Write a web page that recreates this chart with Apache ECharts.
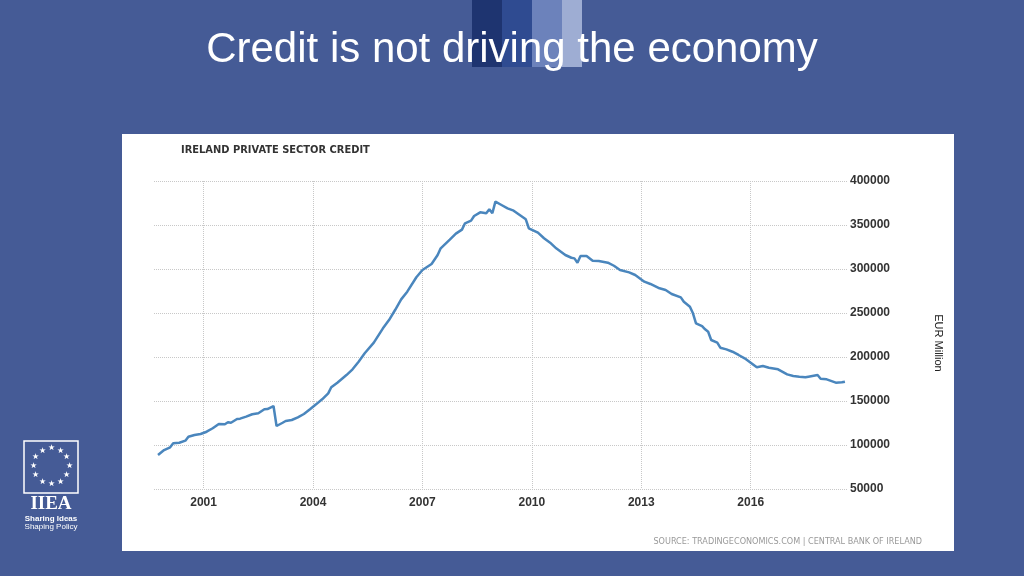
<!DOCTYPE html>
<html><head><meta charset="utf-8">
<script src="https://cdn.jsdelivr.net/npm/echarts@6/dist/echarts.min.js"></script>
<style>html,body{margin:0;padding:0;background:#455b96}#c{width:1024px;height:576px}</style>
</head><body><div id="c"></div>
<script>
// ---- data ----
const months = ['1999-10','1999-12','2000-02','2000-03','2000-05','2000-07','2000-08','2000-10','2000-12',
'2001-02','2001-04','2001-06','2001-08','2001-09','2001-10','2001-12','2002-01','2002-03','2002-05','2002-07',
'2002-09','2002-10','2002-12','2003-01','2003-03','2003-04','2003-06','2003-08','2003-10','2003-12','2004-02',
'2004-04','2004-06','2004-07','2004-09','2004-12','2005-02','2005-04','2005-06','2005-09','2005-12','2006-02',
'2006-04','2006-06','2006-08','2006-11','2007-01','2007-04','2007-06','2007-07','2007-10','2007-12','2008-02',
'2008-03','2008-05','2008-06','2008-08','2008-10','2008-11','2008-12','2009-01','2009-03','2009-05','2009-07',
'2009-09','2009-11','2009-12','2010-03','2010-05','2010-07','2010-09','2010-12','2011-02','2011-03','2011-04',
'2011-05','2011-07','2011-09','2011-11','2012-02','2012-04','2012-06','2012-09','2012-11','2013-02','2013-04',
'2013-07','2013-09','2013-11','2014-02','2014-03','2014-05','2014-06','2014-07','2014-09','2014-10','2014-11',
'2014-12','2015-02','2015-03','2015-05','2015-07','2015-09','2015-11','2016-01','2016-03','2016-05','2016-07',
'2016-10','2017-01','2017-03','2017-05','2017-07','2017-08','2017-11','2017-12','2018-02','2018-05','2018-07','2018-08'];
const credit = [88600,94300,97400,102000,102600,104900,109400,111400,112500,
115100,119000,123900,123500,125800,125300,129500,129900,132200,134900,136000,
140600,140900,144300,121600,125300,127300,128400,131400,135200,140600,146200,
151900,158700,165600,170800,179500,186000,194700,204200,216300,232600,242000,
253400,265500,274200,290600,298900,305700,315900,323500,333400,340200,344700,
351900,354900,360200,364400,363300,367800,363300,376500,372700,368900,366300,
361400,356500,346300,341300,334900,329900,323500,315900,312800,312100,307200,
314800,314800,309400,309100,307200,303700,298900,296200,293200,285600,283000,
278100,276200,271600,267800,262800,257200,249600,238300,235200,231500,228700,
219300,216300,210600,208700,206000,202300,198500,193500,188300,189800,187800,
186000,180300,178400,177600,176900,177600,179500,175300,174600,170800,171200,171900];
const yearTicks = [2001, 2004, 2007, 2010, 2013, 2016];

const slideTitle = 'Credit is not driving the economy';
const chartTitle = 'IRELAND PRIVATE SECTOR CREDIT';
const sourceText = 'SOURCE: TRADINGECONOMICS.COM | CENTRAL BANK OF IRELAND';
const unitText = 'EUR Million';

function toYear(s){ const p = s.split('-'); return +p[0] + (+p[1]-1)/12; }
const seriesData = months.map((m,i)=>[toYear(m), credit[i]]);

// logo stars
const stars = [];
for (let k=0;k<12;k++){
  const a = k*Math.PI/6;
  stars.push({type:'text', z:5, style:{text:'★', x:51+18*Math.sin(a), y:466-18*Math.cos(a),
    fill:'#fff', fontSize:8, align:'center', verticalAlign:'middle'}});
}

const chart = echarts.init(document.getElementById('c'), null, {renderer:'canvas'});
chart.setOption({
  backgroundColor:'#455b96',
  animation:false,
  title:[
    {text:slideTitle, left:'center', top:24, textStyle:{color:'#fff', fontSize:42, fontWeight:'normal', fontFamily:'Liberation Sans, Arial, sans-serif'}},
    {text:chartTitle, left:176, top:140, textStyle:{color:'#333', fontSize:11, fontWeight:'bold', fontFamily:'DejaVu Sans Condensed, Liberation Sans Narrow, sans-serif'}},
    {text:sourceText, right:97, top:532, textStyle:{color:'#999', fontSize:9, fontWeight:'normal', fontFamily:'DejaVu Sans Condensed, Liberation Sans Narrow, sans-serif'}}
  ],
  grid:{left:154, right:177, top:181, bottom:87, containLabel:false},
  xAxis:{type:'value', min:1999.64, max:2018.64,
    axisLine:{show:false},
    axisTick:{show:false, customValues:yearTicks},
    axisLabel:{customValues:yearTicks, formatter:v=>String(Math.round(v)), color:'#333', fontSize:12, fontWeight:'bold', margin:8, fontFamily:'Liberation Sans, Arial, sans-serif'},
    splitLine:{show:true, lineStyle:{color:'#c8c8c8', type:'dotted', width:1}}
  },
  yAxis:{type:'value', position:'right', min:50000, max:400000, interval:50000,
    axisLine:{show:false}, axisTick:{show:false},
    axisLabel:{formatter:v=>String(v), color:'#333', fontSize:12, fontWeight:'bold', margin:3, fontFamily:'Liberation Sans, Arial, sans-serif'},
    splitLine:{show:true, lineStyle:{color:'#c8c8c8', type:'dotted', width:1}}
  },
  series:[{type:'line', data:seriesData, showSymbol:false, symbol:'none',
    lineStyle:{color:'#4a86bd', width:2.5}, z:3}],
  graphic:[
    {type:'rect', z:-10, shape:{x:122,y:134,width:832,height:417}, style:{fill:'#fff'}},
    {type:'rect', z:-5, shape:{x:472,y:0,width:30,height:67}, style:{fill:'#1e3470'}},
    {type:'rect', z:-5, shape:{x:502,y:0,width:30,height:67}, style:{fill:'#2f4b91'}},
    {type:'rect', z:-5, shape:{x:532,y:0,width:30,height:67}, style:{fill:'#6c82bb'}},
    {type:'rect', z:-5, shape:{x:562,y:0,width:20,height:67}, style:{fill:'#9eadd3'}},
    {type:'text', z:5, rotation:-Math.PI/2, x:938, y:343, style:{text:unitText, x:0, y:0, fill:'#222', fontSize:11, fontFamily:'Liberation Sans, Arial, sans-serif', align:'center', verticalAlign:'middle'}},
    {type:'rect', z:5, shape:{x:24,y:441,width:54,height:52}, style:{fill:'none', stroke:'#fff', lineWidth:1.5}},
    {type:'text', z:5, style:{text:'IIEA', x:51, y:504, fill:'#fff', fontSize:19, fontWeight:'bold', fontFamily:'Liberation Serif, serif', align:'center', verticalAlign:'middle'}},
    {type:'text', z:5, style:{text:'Sharing Ideas', x:51, y:519, fill:'#fff', fontSize:8, fontWeight:'bold', fontFamily:'Liberation Sans, Arial, sans-serif', align:'center', verticalAlign:'middle'}},
    {type:'text', z:5, style:{text:'Shaping Policy', x:51, y:527, fill:'#fff', fontSize:8, fontFamily:'Liberation Sans, Arial, sans-serif', align:'center', verticalAlign:'middle'}}
  ].concat(stars)
});
</script>
</body></html>
